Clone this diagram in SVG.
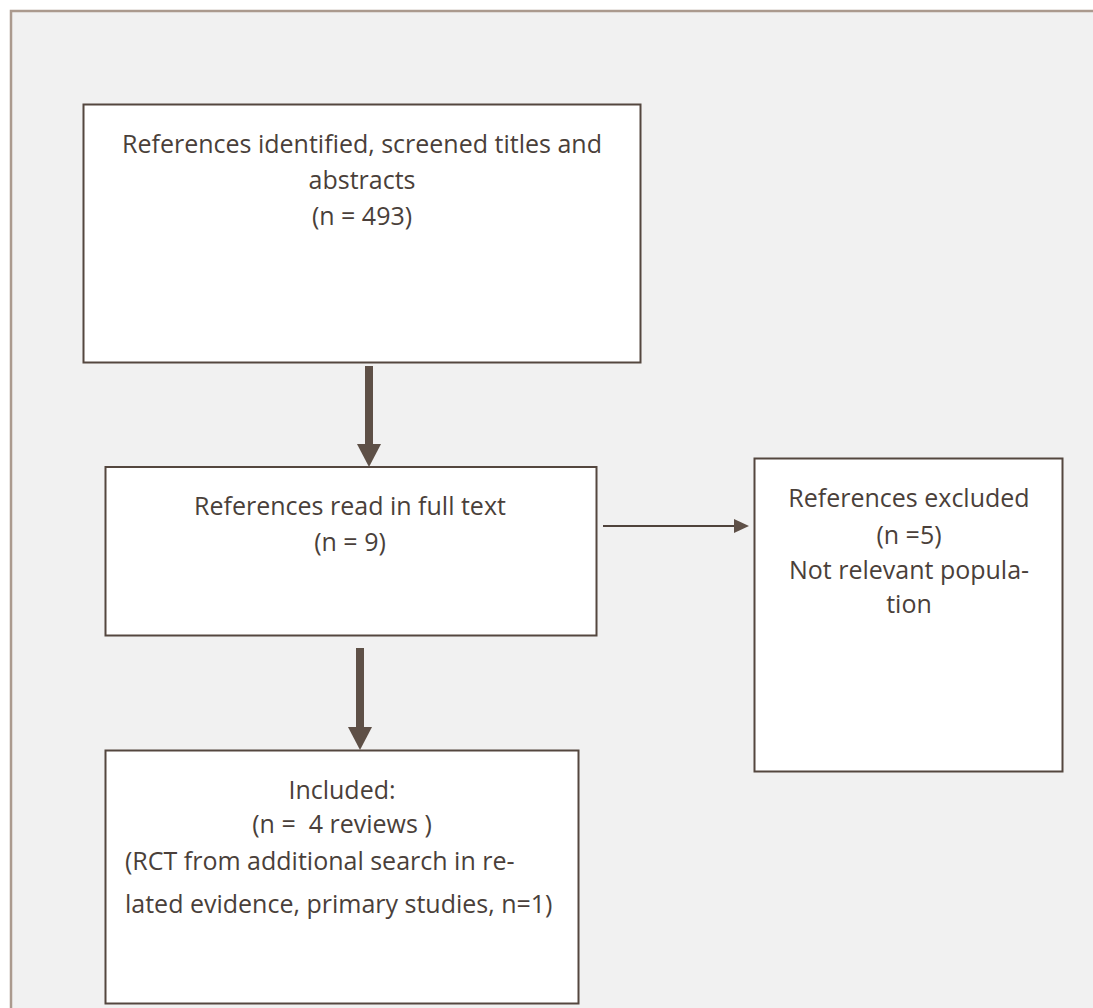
<svg xmlns="http://www.w3.org/2000/svg" width="1093" height="1008" viewBox="0 0 1093 1008">
  <style>
    .box { fill: #ffffff; stroke: #54473f; stroke-width: 2; }
    .t { font-family: "Open Sans", "Liberation Sans", sans-serif; font-size: 25px; fill: #4a3f3a; text-anchor: middle; white-space: pre; }
    .tl { text-anchor: start; }
    .thick { stroke: #5e5047; stroke-width: 8; fill: none; }
    .thin { stroke: #4f433c; stroke-width: 2; fill: none; }
    .head { fill: #5e5047; }
  </style>
  <rect x="0" y="0" width="1093" height="1008" fill="#ffffff"/>
  <rect x="11" y="11" width="1100" height="1010" fill="#f1f1f1" stroke="#ab9a8e" stroke-width="2.5"/>

  <g id="node-identified">
    <rect class="box" x="83.5" y="104.5" width="557" height="258" stroke-width="2.5" stroke="#4a3f3a"/>
    <text class="t" x="362" y="153">References identified, screened titles and</text>
    <text class="t" x="362" y="189">abstracts</text>
    <text class="t" x="362" y="225">(n = 493)</text>
  </g>

  <g id="node-fulltext">
    <rect class="box" x="105.5" y="467" width="491" height="168.5"/>
    <text class="t" x="350" y="515">References read in full text</text>
    <text class="t" x="350" y="551">(n = 9)</text>
  </g>

  <g id="node-excluded">
    <rect class="box" x="754.5" y="458.5" width="308" height="313"/>
    <text class="t" x="909" y="507">References excluded</text>
    <text class="t" x="909" y="544">(n =5)</text>
    <text class="t" x="909" y="579">Not relevant popula-</text>
    <text class="t" x="909" y="613">tion</text>
  </g>

  <g id="node-included">
    <rect class="box" x="105.5" y="750.5" width="473" height="253"/>
    <text class="t" x="342" y="799">Included:</text>
    <text class="t" x="342" y="833">(n =  4 reviews )</text>
    <text class="t tl" x="125" y="870">(RCT from additional search in re-</text>
    <text class="t tl" x="125" y="913">lated evidence, primary studies, n=1)</text>
  </g>

  <g id="connectors">
    <line class="thick" x1="369" y1="366" x2="369" y2="446"/>
    <polygon class="head" points="357,444 381,444 369,467"/>
    <line class="thick" x1="360" y1="648" x2="360" y2="729"/>
    <polygon class="head" points="348,727 372,727 360,750"/>
    <line class="thin" x1="603" y1="526" x2="736" y2="526"/>
    <polygon class="head" points="734,519 749,526 734,533" fill="#4f433c"/>
  </g>
</svg>
